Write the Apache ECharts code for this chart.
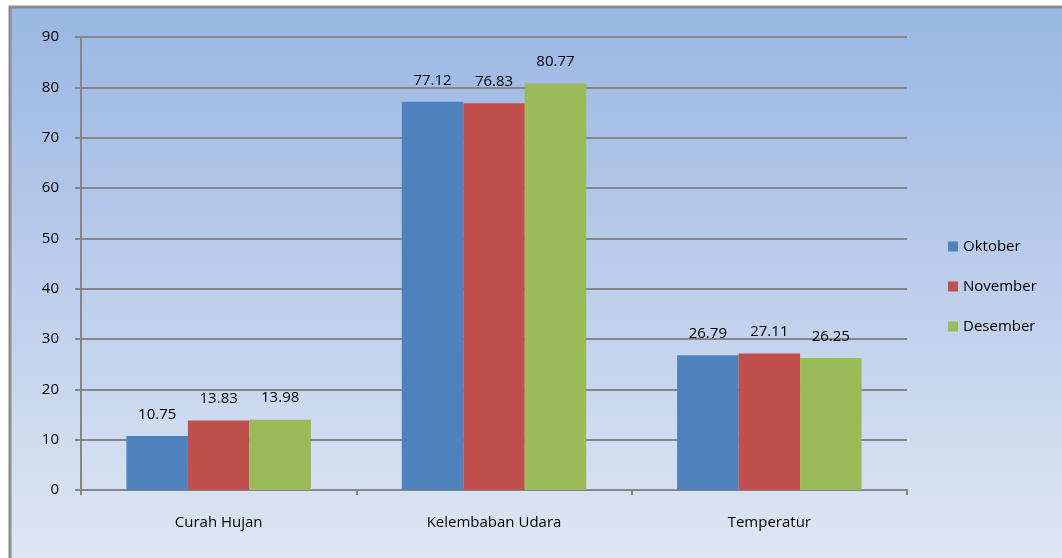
<!DOCTYPE html>
<html>
<head>
<meta charset="utf-8">
<script src="https://cdn.jsdelivr.net/npm/echarts@6/dist/echarts.min.js"></script>
<style>
  html, body { margin: 0; padding: 0; background: #ffffff; }
  #chart { width: 1062px; height: 558px; }
</style>
</head>
<body>
<div id="chart"></div>
<script>
// Weather summary by month
const categories = ['Curah Hujan', 'Kelembaban Udara', 'Temperatur'];
const oktober = [10.75, 77.12, 26.79];
const november = [13.83, 76.83, 27.11];
const desember = [13.98, 80.77, 26.25];
const yTicks = [0, 10, 20, 30, 40, 50, 60, 70, 80, 90];

const FONT = "'Open Sans', 'Noto Sans', sans-serif";
const FS = 15;
const chart = echarts.init(document.getElementById('chart'), null, { renderer: 'canvas' });

const labelStyle = {
  show: true,
  position: 'top',
  distance: 14,
  color: '#000000',
  fontFamily: FONT,
  fontSize: FS,
  formatter: p => p.value.toFixed(2)
};

function barSeries(name, data, color) {
  return {
    name: name,
    type: 'bar',
    data: data,
    barGap: '0%',
    barCategoryGap: '33%',
    itemStyle: { color: color },
    label: labelStyle
  };
}

chart.setOption({
  animation: false,
  graphic: [{
    type: 'rect',
    z: -100,
    silent: true,
    shape: { x: 10, y: 7, width: 1100, height: 600 },
    style: {
      fill: new echarts.graphic.LinearGradient(0, 0, 0, 1, [
        { offset: 0, color: '#99b6e3' },
        { offset: 0.9, color: '#dde5f3' },
        { offset: 1, color: '#e2e9f5' }
      ]),
      stroke: '#8c8c8c',
      lineWidth: 3
    }
  }],
  grid: { left: 81, right: 155, top: 37, bottom: 68 },
  legend: {
    orient: 'vertical',
    left: 948,
    top: 239,
    padding: 0,
    itemWidth: 10,
    itemHeight: 10,
    itemGap: 25,
    icon: 'rect',
    textStyle: { fontFamily: FONT, fontSize: FS, lineHeight: 14, color: '#000000' },
    data: ['Oktober', 'November', 'Desember']
  },
  xAxis: {
    type: 'category',
    data: categories,
    axisLine: { lineStyle: { color: '#868686', width: 2 } },
    axisTick: { show: true, length: 5, lineStyle: { color: '#868686', width: 2 } },
    axisLabel: { color: '#000000', fontFamily: FONT, fontSize: FS, margin: 25 }
  },
  yAxis: {
    type: 'value',
    min: yTicks[0],
    max: yTicks[yTicks.length - 1],
    interval: 10,
    axisLine: { show: true, lineStyle: { color: '#868686', width: 2 } },
    axisTick: { show: true, length: 6, lineStyle: { color: '#868686', width: 2 } },
    axisLabel: { color: '#000000', fontFamily: FONT, fontSize: FS, margin: 22 },
    splitLine: { show: true, lineStyle: { color: '#868686', width: 2 } }
  },
  series: [
    barSeries('Oktober', oktober, '#4f81bd'),
    barSeries('November', november, '#c0504d'),
    barSeries('Desember', desember, '#9bbb59')
  ]
});
</script>
</body>
</html>
